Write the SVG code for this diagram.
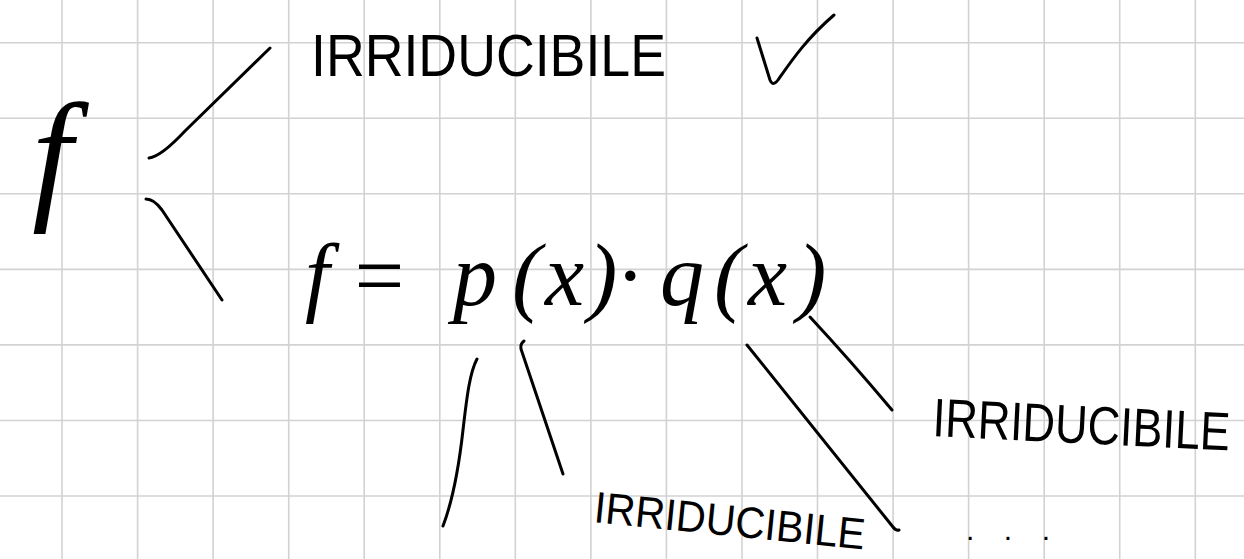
<svg xmlns="http://www.w3.org/2000/svg" width="1244" height="559" viewBox="0 0 1244 559">
  <style>
    .grid line { stroke: #d2d2d2; stroke-width: 1.6; }
    .ink { fill: none; stroke: #000; stroke-width: 3; stroke-linecap: round; stroke-linejoin: round; }
    .math { font-family: "Liberation Serif", "Times New Roman", serif; font-style: italic; fill: #000; }
    .label { font-family: "Liberation Sans", Arial, sans-serif; fill: #000; }
  </style>
  <rect width="1244" height="559" fill="#ffffff"/>
  <g class="grid" id="grid">
    <line x1="62" y1="0" x2="62" y2="559"/>
    <line x1="137.6" y1="0" x2="137.6" y2="559"/>
    <line x1="213.1" y1="0" x2="213.1" y2="559"/>
    <line x1="288.7" y1="0" x2="288.7" y2="559"/>
    <line x1="364.2" y1="0" x2="364.2" y2="559"/>
    <line x1="439.8" y1="0" x2="439.8" y2="559"/>
    <line x1="515.3" y1="0" x2="515.3" y2="559"/>
    <line x1="590.9" y1="0" x2="590.9" y2="559"/>
    <line x1="666.4" y1="0" x2="666.4" y2="559"/>
    <line x1="742" y1="0" x2="742" y2="559"/>
    <line x1="817.5" y1="0" x2="817.5" y2="559"/>
    <line x1="893.1" y1="0" x2="893.1" y2="559"/>
    <line x1="968.6" y1="0" x2="968.6" y2="559"/>
    <line x1="1044.2" y1="0" x2="1044.2" y2="559"/>
    <line x1="1119.7" y1="0" x2="1119.7" y2="559"/>
    <line x1="1195.3" y1="0" x2="1195.3" y2="559"/>
    <line x1="0" y1="42.7" x2="1244" y2="42.7"/>
    <line x1="0" y1="118.3" x2="1244" y2="118.3"/>
    <line x1="0" y1="193.8" x2="1244" y2="193.8"/>
    <line x1="0" y1="269.4" x2="1244" y2="269.4"/>
    <line x1="0" y1="344.9" x2="1244" y2="344.9"/>
    <line x1="0" y1="420.5" x2="1244" y2="420.5"/>
    <line x1="0" y1="496" x2="1244" y2="496"/>
  </g>

  <g id="connectors">
    <path class="ink" d="M149,158 C158,157 170,147 185,131 L270,48"/>
    <path class="ink" d="M146,199 Q154,199 162,210 L222,300"/>
    <path class="ink" d="M477,359 C470,372 467,395 463,430 C458,475 451,505 443,526"/>
    <path class="ink" d="M524,341 Q520,344 521,349 L563,474"/>
    <path class="ink" d="M747,345 L893,527 Q896,531 899,530"/>
    <path class="ink" d="M810,317 Q850,360 892,410"/>
  </g>

  <g id="node-f">
    <text class="math" x="32" y="203" font-size="145">f</text>
  </g>

  <g id="node-irreducible-top">
    <text class="label" x="311" y="76" font-size="60" textLength="355" lengthAdjust="spacingAndGlyphs">IRRIDUCIBILE</text>
    <path class="ink" d="M757,38 L770,80 Q773,87 778,80 C790,63 805,40 834,15"/>
  </g>

  <g id="node-product">
    <text class="math" y="305" font-size="88"><tspan x="305">f</tspan><tspan x="349">=</tspan><tspan x="453">p</tspan><tspan x="512">(</tspan><tspan x="545">x</tspan><tspan x="588">)</tspan><tspan x="618">·</tspan><tspan x="660">q</tspan><tspan x="714">(</tspan><tspan x="748">x</tspan><tspan x="797">)</tspan></text>
  </g>

  <g id="node-irreducible-p">
    <text class="label" x="593" y="522" font-size="44" textLength="272" lengthAdjust="spacingAndGlyphs" transform="rotate(5.8 593 522)">IRRIDUCIBILE</text>
  </g>

  <g id="node-irreducible-q">
    <g transform="rotate(2.8 932 436) translate(932 436) scale(1 1.2)">
      <text class="label" x="0" y="0" font-size="45">IRRIDUCIBILE</text>
    </g>
  </g>

  <g id="node-ellipsis">
    <text class="label" x="966" y="540" font-size="30" textLength="84" lengthAdjust="spacing">. . .</text>
  </g>
</svg>
